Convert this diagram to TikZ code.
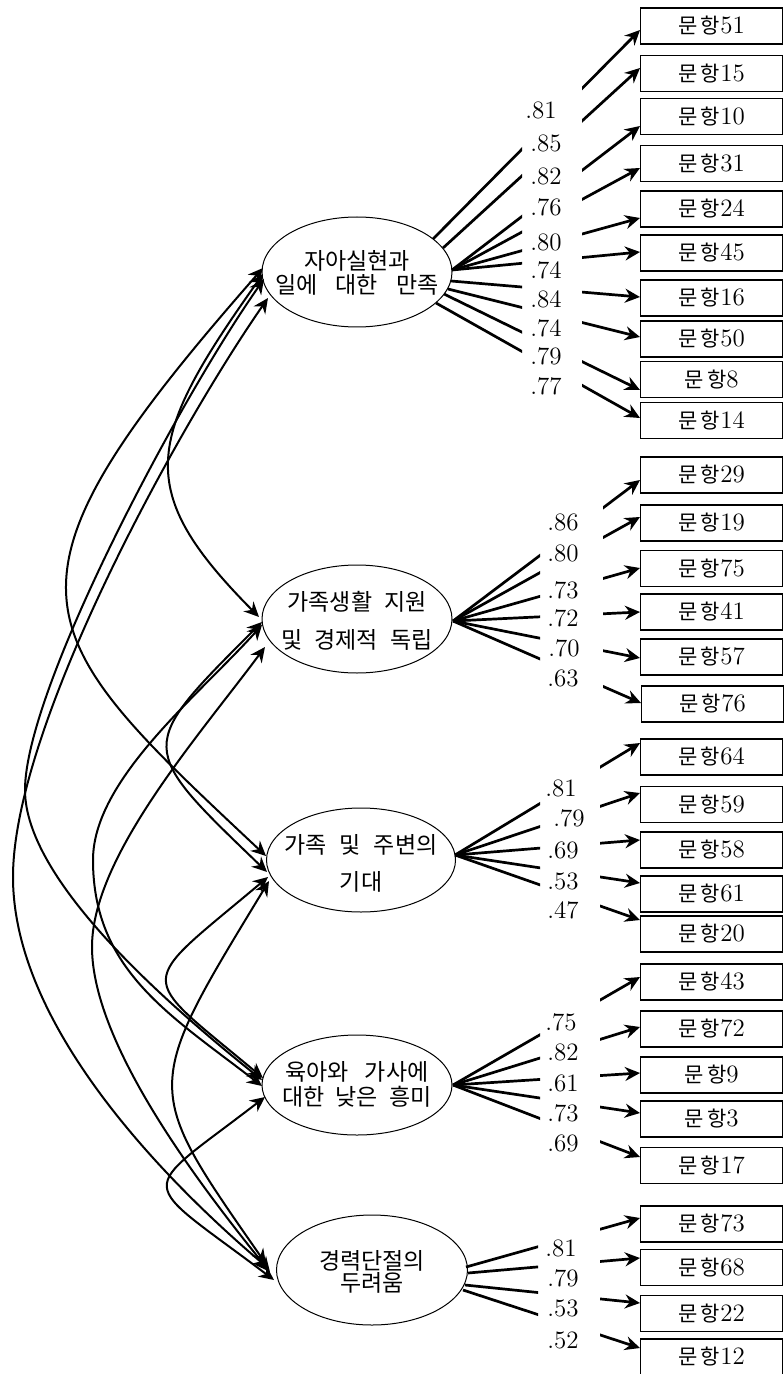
\documentclass[tikz,border=0pt]{standalone}
\usepackage{fontspec}
\newfontfamily\kr{Noto Sans CJK KR}
\usetikzlibrary{shapes.geometric,arrows.meta}
\newcommand\munhang[1]{{\kr\fontsize{10.5}{12}\selectfont 문\hspace{1.5pt}항}{\fontsize{12.5}{12}\selectfont #1}}
\newcommand\ksp[1][7pt]{\hspace{#1}}
\tikzset{
  fac/.style={ellipse, draw, line width=0.5pt, minimum width=95pt, minimum height=54pt, inner sep=0pt},
  factxt/.style={inner sep=0pt, align=center, font=\kr\fontsize{11.5}{12}\selectfont},
  item/.style={rectangle, draw, line width=0.7pt, minimum width=71pt, minimum height=18pt, inner sep=0pt, anchor=west},
  lab/.style={inner sep=0pt, font=\fontsize{12.5}{12}\selectfont},
  ahead/.tip={Stealth[length=7.5pt,width=7pt,inset=2.5pt]},
  load/.style={line width=1.35pt, -ahead},
  cov/.style={line width=1pt, ahead-ahead},
}
\begin{document}
\begin{tikzpicture}[x=0.5pt,y=-0.5pt]
\useasboundingbox (0,0) rectangle (783,1374);

% ---------- factors ----------
\node[fac, minimum height=55pt] (F1) at (357,272) {};
\node[factxt] (F1t) at (357,273) {자아실현과\\일에\ksp[9pt]대한\ksp[9pt]만족};
\node[fac] (F2) at (357,619) {};
\node[factxt] (F2t) at (357,621) {가족생활\ksp[6pt]지원\\[7pt]및\ksp[6pt]경제적\ksp[6pt]독립};
\node[fac, minimum width=94.5pt, minimum height=52pt] (F3) at (361,860) {};
\node[factxt] (F3t) at (361,863) {가족\ksp[6.5pt]및\ksp[6.5pt]주변의\\[6.5pt]기대};
\node[fac, minimum height=50pt] (F4) at (357,1085) {};
\node[factxt] (F4t) at (357,1084.5) {육아와\ksp[8pt]가사에\\[0.5pt]대한\ksp[5.5pt]낮은\ksp[5.5pt]흥미};
\node[fac, minimum width=95.5pt, minimum height=55pt] (F5) at (372,1270) {};
\node[factxt] (F5t) at (372,1272) {경력단절의\\[-1pt]두려움};

% ---------- items ----------
\node[item] (b51) at (640,26) {\munhang{51}};
\node[item] (b15) at (640,73.5) {\munhang{15}};
\node[item] (b10) at (640,116.5) {\munhang{10}};
\node[item] (b31) at (640,163.5) {\munhang{31}};
\node[item] (b24) at (640,209) {\munhang{24}};
\node[item] (b45) at (640,253) {\munhang{45}};
\node[item] (b16) at (640,298) {\munhang{16}};
\node[item] (b50) at (640,339) {\munhang{50}};
\node[item] (b8) at (640,379.5) {\munhang{8}};
\node[item] (b14) at (640,420.5) {\munhang{14}};

\node[item] (b29) at (640,475) {\munhang{29}};
\node[item] (b19) at (640,523) {\munhang{19}};
\node[item] (b75) at (640,568.5) {\munhang{75}};
\node[item] (b41) at (640,612) {\munhang{41}};
\node[item] (b57) at (640,657) {\munhang{57}};
\node[item] (b76) at (641,704) {\munhang{76}};

\node[item] (b64) at (640,757) {\munhang{64}};
\node[item] (b59) at (640,804.5) {\munhang{59}};
\node[item] (b58) at (640,850) {\munhang{58}};
\node[item] (b61) at (640,894) {\munhang{61}};
\node[item] (b20) at (640,934) {\munhang{20}};

\node[item] (b43) at (640,982) {\munhang{43}};
\node[item] (b72) at (640,1029) {\munhang{72}};
\node[item] (b9) at (640,1075) {\munhang{9}};
\node[item] (b3) at (640,1119) {\munhang{3}};
\node[item] (b17) at (640,1165.5) {\munhang{17}};

\node[item] (b73) at (640,1224) {\munhang{73}};
\node[item] (b68) at (640,1267.5) {\munhang{68}};
\node[item] (b22) at (640,1313.5) {\munhang{22}};
\node[item] (b12) at (640,1357) {\munhang{12}};

% ---------- loading start points on the ellipses ----------
\coordinate (s1a) at (433,239);
\coordinate (s1b) at (443,248);
\coordinate (s1c) at (452,270);
\coordinate (s1d) at (451,281);
\coordinate (s1e) at (448,289);
\coordinate (s1f) at (444,294);
\coordinate (s1g) at (436,303);
\coordinate (s2) at (453,621);
\coordinate (s3) at (455,855);
\coordinate (s4) at (453,1085);
\coordinate (s5a) at (466,1267);
\coordinate (s5b) at (468,1273);
\coordinate (s5c) at (465,1285);
\coordinate (s5d) at (463,1290);

% ---------- loadings ----------
\begin{scope}
\clip (0,0) rectangle (522,450) (582,0) rectangle (783,450);
\draw[load] (s1a) -- (b51.west |- 0,30);
\draw[load] (s1b) -- (b15.west |- 0,68);
\draw[load] (s1c) -- (b10.west |- 0,126);
\draw[load] (s1c) -- (b31.west |- 0,168);
\draw[load] (s1c) -- (b24.west |- 0,218);
\draw[load] (s1c) -- (b45.west |- 0,252);
\draw[load] (s1d) -- (b16.west |- 0,297);
\draw[load] (s1e) -- (b50.west |- 0,337);
\draw[load] (s1f) -- (b8.west |- 0,390);
\draw[load] (s1g) -- (b14.west |- 0,418);
\end{scope}
\begin{scope}
\clip (0,440) rectangle (540,730) (603,440) rectangle (783,730);
\draw[load] (s2) -- (b29.west |- 0,480);
\draw[load] (s2) -- (b19.west |- 0,517);
\draw[load] (s2) -- (b75.west |- 0,568);
\draw[load] (s2) -- (b41.west |- 0,612);
\draw[load] (s2) -- (b57.west |- 0,658);
\draw[load] (s2) -- (b76.west |- 0,703);
\end{scope}
\begin{scope}
\clip (0,730) rectangle (540,955) (600,730) rectangle (783,955);
\draw[load] (s3) -- (b64.west |- 0,743);
\draw[load] (s3) -- (b59.west |- 0,793);
\draw[load] (s3) -- (b58.west |- 0,840);
\draw[load] (s3) -- (b61.west |- 0,883);
\draw[load] (s3) -- (b20.west |- 0,920);
\end{scope}
\begin{scope}
\clip (0,955) rectangle (540,1190) (600,955) rectangle (783,1190);
\draw[load] (s4) -- (b43.west |- 0,977);
\draw[load] (s4) -- (b72.west |- 0,1027);
\draw[load] (s4) -- (b9.west |- 0,1073);
\draw[load] (s4) -- (b3.west |- 0,1113);
\draw[load] (s4) -- (b17.west |- 0,1157);
\end{scope}
\begin{scope}
\clip (0,1190) rectangle (538,1374) (600,1190) rectangle (783,1374);
\draw[load] (s5a) -- (b73.west |- 0,1218);
\draw[load] (s5b) -- (b68.west |- 0,1258);
\draw[load] (s5c) -- (b22.west |- 0,1303);
\draw[load] (s5d) -- (b12.west |- 0,1348);
\end{scope}

% ---------- loading labels ----------
\node[lab] (l51) at (541,110) {.81};
\node[lab] (l15) at (546,143) {.85};
\node[lab] (l10) at (546,176) {.82};
\node[lab] (l31) at (546,207) {.76};
\node[lab] (l24) at (546,242) {.80};
\node[lab] (l45) at (546,270) {.74};
\node[lab] (l16) at (546,299) {.84};
\node[lab] (l50) at (546,328) {.74};
\node[lab] (l8) at (546,356) {.79};
\node[lab] (l14) at (546,386) {.77};

\node[lab] (l29) at (563,522) {.86};
\node[lab] (l19) at (563,553) {.80};
\node[lab] (l75) at (563,590) {.73};
\node[lab] (l41) at (563,618) {.72};
\node[lab] (l57) at (564,648) {.70};
\node[lab] (l76) at (563,678) {.63};

\node[lab] (l64) at (561,788) {.81};
\node[lab] (l59) at (569,818) {.79};
\node[lab] (l58) at (563,850) {.69};
\node[lab] (l61) at (563,881) {.53};
\node[lab] (l20) at (563,910) {.47};

\node[lab] (l43) at (561,1022) {.75};
\node[lab] (l72) at (563,1052) {.82};
\node[lab] (l9) at (563,1083) {.61};
\node[lab] (l3) at (563,1113) {.73};
\node[lab] (l17) at (563,1143) {.69};

\node[lab] (l73) at (561,1248) {.81};
\node[lab] (l68) at (563,1278) {.79};
\node[lab] (l22) at (563,1308) {.53};
\node[lab] (l12) at (563,1340) {.52};

% ---------- covariance end points ----------
\coordinate (a13) at (263,268);
\coordinate (a12) at (263,274);
\coordinate (a14) at (264,279);
\coordinate (a15) at (268,298);
\coordinate (b12) at (259,617);
\coordinate (b23) at (262,622);
\coordinate (b24) at (262,625);
\coordinate (b25) at (265,647);
\coordinate (c13) at (266,856);
\coordinate (c23) at (267,872);
\coordinate (c34) at (268,877);
\coordinate (c35) at (269,881);
\coordinate (d14) at (262,1080);
\coordinate (d24) at (262,1086);
\coordinate (d34) at (263,1078);
\coordinate (d45) at (265,1097);
\coordinate (e15) at (268,1268);
\coordinate (e25) at (270,1272);
\coordinate (e35) at (266,1264);
\coordinate (e45) at (274,1280);

% ---------- covariances ----------
\draw[cov] (a12) .. controls (145,440) and (133,490) .. (b12);
\draw[cov] (a13) .. controls (-20,590) and (25,630) .. (c13);
\draw[cov] (a14) .. controls (177,403) and (25,690) .. (25,790)
                 .. controls (25,880) and (166,1003) .. (d14);
\draw[cov] (a15) .. controls (177,429) and (13,727) .. (13,877)
                 .. controls (13,1027) and (167,1182) .. (e15);
\draw[cov] (b23) .. controls (136,748) and (136,746) .. (c23);
\draw[cov] (b24) .. controls (197,697) and (93,780) .. (93,860)
                 .. controls (93,970) and (170,1015) .. (d24);
\draw[cov] (b25) .. controls (198,737) and (92,857) .. (92,947)
                 .. controls (92,1047) and (207,1194) .. (e25);
\draw[cov] (c34) .. controls (135,989) and (135,971) .. (d34);
\draw[cov] (c35) .. controls (142,1090) and (142,1086) .. (e35);
\draw[cov] (d45) .. controls (135,1197) and (135,1175) .. (e45);
\end{tikzpicture}
\end{document}
